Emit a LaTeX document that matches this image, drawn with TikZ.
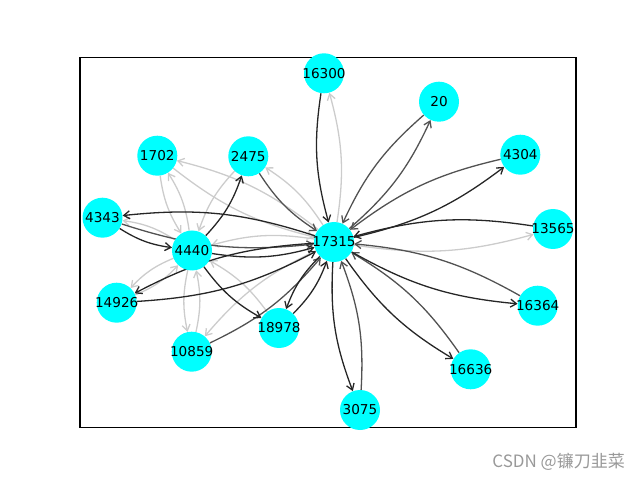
\documentclass[tikz,border=0pt]{standalone}
\usepackage{fontspec}
\setmainfont{DejaVu Sans}
\newfontfamily\cjk{Noto Sans CJK SC}
\usetikzlibrary{arrows.meta,backgrounds}
\definecolor{aquafill}{RGB}{0,255,255}
\newcommand{\vlbl}[1]{\makebox[0pt]{#1}}
\begin{document}
\begin{tikzpicture}[x=1pt,y=1pt,
  vtx/.style={circle,fill=aquafill,minimum size=40pt,inner sep=0pt,font=\fontsize{13.6}{14}\selectfont},
  edbase/.style={line width=1.3pt,-{Straight Barb[length=6pt,width=8pt]},bend right=12},
  edk/.style={edbase,draw=black!85},
  edm/.style={edbase,draw=black!68},
  edl/.style={edbase,draw=black!20},
  frame/.style={draw=black,line width=1.1pt}]
\useasboundingbox (0,0) rectangle (640,480);
\draw[frame] (80,52.8) rectangle (576,422.4);
\node[vtx] (n17315) at (334,238) {\vlbl{17315}};
\node[vtx] (n16300) at (324,406.7) {\vlbl{16300}};
\node[vtx] (n20) at (439,378.3) {\vlbl{20}};
\node[vtx] (n1702) at (157.3,324.3) {\vlbl{1702}};
\node[vtx] (n2475) at (248.3,323.7) {\vlbl{2475}};
\node[vtx] (n4304) at (520.3,325.3) {\vlbl{4304}};
\node[vtx] (n4343) at (102.5,262.3) {\vlbl{4343}};
\node[vtx] (n4440) at (192,229.5) {\vlbl{4440}};
\node[vtx] (n13565) at (553,251) {\vlbl{13565}};
\node[vtx] (n14926) at (116.7,177.3) {\vlbl{14926}};
\node[vtx] (n16364) at (537.7,174.3) {\vlbl{16364}};
\node[vtx] (n18978) at (279,152) {\vlbl{18978}};
\node[vtx] (n10859) at (191.7,128.3) {\vlbl{10859}};
\node[vtx] (n16636) at (470.7,110.7) {\vlbl{16636}};
\node[vtx] (n3075) at (360,70) {\vlbl{3075}};
\node[anchor=east,text=black!40,font=\cjk\fontsize{17}{18}\selectfont,inner sep=0pt] (wm) at (625,18) {CSDN @镰刀韭菜};
\begin{pgfonlayer}{background}
\draw[edl] (n17315) to (n16300);
\draw[edl] (n17315) to (n13565);
\draw[edl] (n17315) to (n10859);
\draw[edl] (n17315) to (n4440);
\draw[edl] (n1702) to (n17315);
\draw[edl] (n17315) to (n1702);
\draw[edl] (n17315) to (n2475);
\draw[edl] (n2475) to (n4440);
\draw[edl] (n1702) to (n4440);
\draw[edl] (n4440) to (n1702);
\draw[edl] (n4440) to (n4343);
\draw[edl] (n4440) to (n14926);
\draw[edl] (n14926) to (n4440);
\draw[edl] (n4440) to (n10859);
\draw[edl] (n10859) to (n4440);
\draw[edl] (n18978) to (n4440);
\draw[edm] (n20) to (n17315);
\draw[edm] (n17315) to (n20);
\draw[edm] (n4304) to (n17315);
\draw[edm] (n16364) to (n17315);
\draw[edm] (n16636) to (n17315);
\draw[edm] (n3075) to (n17315);
\draw[edm] (n10859) to (n17315);
\draw[edm] (n4343) to (n17315);
\draw[edm] (n2475) to (n17315);
\draw[edk] (n16300) to (n17315);
\draw[edk] (n17315) to (n4304);
\draw[edk] (n13565) to (n17315);
\draw[edk] (n17315) to (n16364);
\draw[edk] (n17315) to (n16636);
\draw[edk] (n17315) to (n3075);
\draw[edk] (n18978) to (n17315);
\draw[edk] (n17315) to (n18978);
\draw[edk] (n14926) to (n17315);
\draw[edk] (n17315) to (n14926);
\draw[edk] (n4440) to (n17315);
\draw[edk] (n17315) to (n4343);
\draw[edk] (n4440) to (n2475);
\draw[edk] (n4343) to (n4440);
\draw[edk] (n4440) to (n18978);
\end{pgfonlayer}
\end{tikzpicture}
\end{document}
